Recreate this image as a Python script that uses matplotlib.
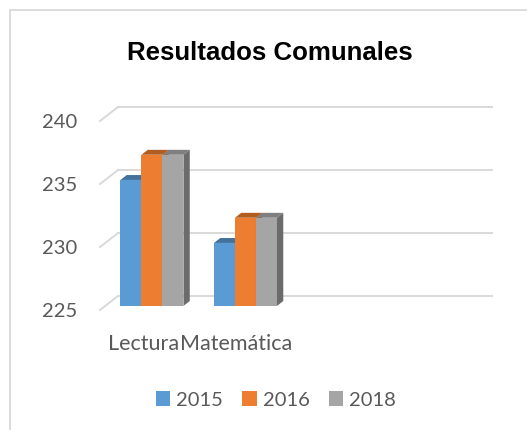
import matplotlib.pyplot as plt
import numpy as np
from matplotlib.patches import Polygon, Rectangle, Patch

# chart data
categories = ['Lectura', 'Matemática']
years = ['2015', '2016', '2018']
scores = {
    '2015': [235, 230],
    '2016': [237, 232],
    '2018': [237, 232],
}
yticks = [225, 230, 235, 240]

front_colors = ['#5B9BD5', '#ED7D31', '#A5A5A5']
top_colors = ['#41719C', '#B35C20', '#7F7F7F']
side_colors = ['#3F6E98', '#AE5A1F', '#6B6B6B']

W, H = 527, 430
fig = plt.figure(figsize=(W / 100, H / 100), dpi=100)

# chart frame (left and top edges only are in view)
fig.patches.append(Rectangle((10 / W, -0.1), 1.2, (H - 10) / H + 0.1,
                             transform=fig.transFigure, fill=False,
                             edgecolor='#D9D9D9', linewidth=1.3))

ax = fig.add_axes([100 / W, 120 / H, 374 / W, 189 / H])
n_slots = 4
ymin, ymax = yticks[0], yticks[-1]
ax.set_xlim(0, n_slots)
ax.set_ylim(ymin, ymax)
for s in ax.spines.values():
    s.set_visible(False)

# oblique depth of the plot box, in data units
DX, DY = 0.1925, 1.111
d0, dd = 0.29, 0.35        # bar depth start / thickness (fraction of box depth)
grid_c = '#D9D9D9'

# back wall gridlines and side wall lines
for v in yticks:
    ax.plot([DX, n_slots + DX], [v + DY, v + DY], color=grid_c, lw=1.4,
            clip_on=False, zorder=1)
    ax.plot([0, DX], [v, v + DY], color=grid_c, lw=1.4, clip_on=False, zorder=1)

bw = 0.2246
sx, sy = d0 * DX, d0 * DY
bx, by = dd * DX, dd * DY
z = 2
for i, cat in enumerate(categories):
    left0 = i + 0.5 - 1.5 * bw + sx
    for j, yr in enumerate(years):
        v = scores[yr][i]
        x0 = left0 + j * bw
        x1 = x0 + bw
        y0 = ymin + sy
        y1 = v + sy
        ax.bar(x0, y1 - y0, width=bw, bottom=y0, align='edge',
               color=front_colors[j], clip_on=False, zorder=z)
        ax.add_patch(Polygon([(x0, y1), (x1, y1), (x1 + bx, y1 + by), (x0 + bx, y1 + by)],
                             closed=True, facecolor=top_colors[j], edgecolor='none',
                             clip_on=False, zorder=z))
        ax.add_patch(Polygon([(x1, y0), (x1 + bx, y0 + by), (x1 + bx, y1 + by), (x1, y1)],
                             closed=True, facecolor=side_colors[j], edgecolor='none',
                             clip_on=False, zorder=z))
        z += 1

font = 'Lato'
txt_c = '#595959'
ax.set_yticks(yticks)
ax.set_yticklabels([str(t) for t in yticks], fontsize=14.5, color=txt_c, family=font)
ax.tick_params(axis='y', length=0, pad=16.5)
ax.set_xticks([0.47, 1.46])
ax.set_xticklabels(categories, fontsize=15.5, color=txt_c, family=font)
ax.tick_params(axis='x', length=0, pad=17)

fig.text(270 / W, 1 - 53 / H, 'Resultados Comunales', ha='center', va='center',
         fontsize=18.6, fontweight='bold', family='Liberation Sans', color='black')

handles = [Patch(facecolor=c, edgecolor='none') for c in front_colors]
leg = fig.legend(handles, years, loc='center', bbox_to_anchor=(276 / W, 1 - 400 / H),
                 ncol=3, frameon=False, handlelength=0.7, handleheight=0.7,
                 handletextpad=0.3, columnspacing=0.95,
                 prop={'family': font, 'size': 14.5})
for t in leg.get_texts():
    t.set_color(txt_c)

fig.savefig('out.png', dpi=100)
